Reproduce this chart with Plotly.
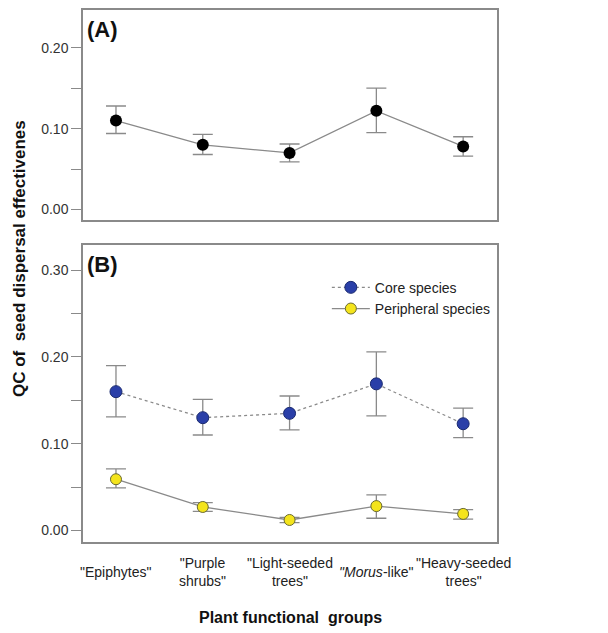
import plotly.graph_objects as go

groups = ['"Epiphytes"', '"Purple<br>shrubs"', '"Light-seeded<br>trees"',
          '<i>"Morus</i>-like"', '"Heavy-seeded<br>trees"']
xpos = [0, 1, 2, 3, 4]

# Panel A: all species
a_mean = [0.110, 0.080, 0.070, 0.122, 0.078]
a_hi = [0.128, 0.093, 0.081, 0.150, 0.090]
a_lo = [0.094, 0.068, 0.059, 0.095, 0.066]

# Panel B: core species
core_mean = [0.160, 0.130, 0.135, 0.169, 0.123]
core_hi = [0.190, 0.151, 0.155, 0.206, 0.141]
core_lo = [0.131, 0.110, 0.116, 0.132, 0.107]

# Panel B: peripheral species
per_mean = [0.059, 0.027, 0.012, 0.028, 0.019]
per_hi = [0.071, 0.032, 0.015, 0.041, 0.024]
per_lo = [0.049, 0.022, 0.009, 0.014, 0.013]

a_ticks = [0.0, 0.05, 0.10, 0.15, 0.20]
a_ticktext = ["0.00", "", "0.10", "", "0.20"]
b_ticks = [0.0, 0.05, 0.10, 0.15, 0.20, 0.25, 0.30]
b_ticktext = ["0.00", "", "0.10", "", "0.20", "", "0.30"]

GRAY = "#8a8a8a"
FONT = "Liberation Sans, Arial, sans-serif"


def err(mean, hi, lo):
    return dict(type="data", symmetric=False,
                array=[h - m for h, m in zip(hi, mean)],
                arrayminus=[m - l for m, l in zip(mean, lo)],
                color=GRAY, thickness=1.3, width=10)


fig = go.Figure()
fig.add_trace(go.Scatter(x=xpos, y=a_mean, mode="lines+markers", xaxis="x", yaxis="y",
                         line=dict(color=GRAY, width=1.3),
                         marker=dict(size=12, color="black"),
                         error_y=err(a_mean, a_hi, a_lo), showlegend=False))
fig.add_trace(go.Scatter(x=xpos, y=core_mean, mode="lines+markers", xaxis="x2", yaxis="y2",
                         name="Core species",
                         line=dict(color=GRAY, width=1.3, dash="dot"),
                         marker=dict(size=12, color="#2a3fa8", line=dict(color="#1a2a70", width=1)),
                         error_y=err(core_mean, core_hi, core_lo)))
fig.add_trace(go.Scatter(x=xpos, y=per_mean, mode="lines+markers", xaxis="x2", yaxis="y2",
                         name="Peripheral species",
                         line=dict(color=GRAY, width=1.3),
                         marker=dict(size=11, color="#f4e41c", line=dict(color="#6a6a30", width=1)),
                         error_y=err(per_mean, per_hi, per_lo)))

axis_common = dict(showline=True, mirror=True, linecolor=GRAY, linewidth=1.5,
                   showgrid=False, zeroline=False)
xr = [-0.38, 4.39]
fig.update_layout(
    width=608, height=633,
    margin=dict(l=75, r=119, t=0, b=99),
    paper_bgcolor="white", plot_bgcolor="white",
    font=dict(family=FONT, size=14, color="#222"),
    xaxis=dict(domain=[0, 1], range=xr, showticklabels=False, ticks="", anchor="y", **axis_common),
    yaxis=dict(domain=[0.6049, 1], range=[-0.0132, 0.2467], tickvals=a_ticks, ticktext=a_ticktext,
               ticks="outside", ticklen=10, tickcolor=GRAY, tickwidth=1.2, anchor="x",
               tickfont=dict(size=14, color="#333"), **axis_common),
    xaxis2=dict(domain=[0, 1], range=xr, showticklabels=False, ticks="", anchor="y2", **axis_common),
    yaxis2=dict(domain=[0, 0.558], range=[-0.0134, 0.329], tickvals=b_ticks, ticktext=b_ticktext,
                ticks="outside", ticklen=10, tickcolor=GRAY, tickwidth=1.2, anchor="x2",
                tickfont=dict(size=14, color="#333"), **axis_common),
    legend=dict(x=0.589, y=0.508, xanchor="left", yanchor="top", bgcolor="rgba(0,0,0,0)",
                font=dict(size=14, color="#222"), tracegroupgap=0, itemwidth=38),
)

# category labels under panel B
for xi, g in zip(xpos, groups):
    fig.add_annotation(x=xi, y=-0.056, xref="x2", yref="paper", text=g, showarrow=False,
                       yanchor="middle", xanchor="center", font=dict(size=14, color="#222"))

fig.add_annotation(x=0.5, y=-0.1423, xref="paper", yref="paper", text="<b>Plant functional  groups</b>",
                   showarrow=False, yanchor="middle", font=dict(size=16, color="#111"))
fig.add_annotation(x=-0.152, y=0.532, xref="paper", yref="paper",
                   text="<b>QC of  seed dispersal effectivenes</b>", textangle=-90,
                   showarrow=False, xanchor="center", yanchor="middle", font=dict(size=17, color="#111"))
fig.add_annotation(x=0.005, y=0.99, xref="paper", yref="paper", text="<b>(A)</b>",
                   showarrow=False, xanchor="left", yanchor="top", font=dict(size=22, color="#111"))
fig.add_annotation(x=0.005, y=0.548, xref="paper", yref="paper", text="<b>(B)</b>",
                   showarrow=False, xanchor="left", yanchor="top", font=dict(size=22, color="#111"))

fig.write_html("out.html")
